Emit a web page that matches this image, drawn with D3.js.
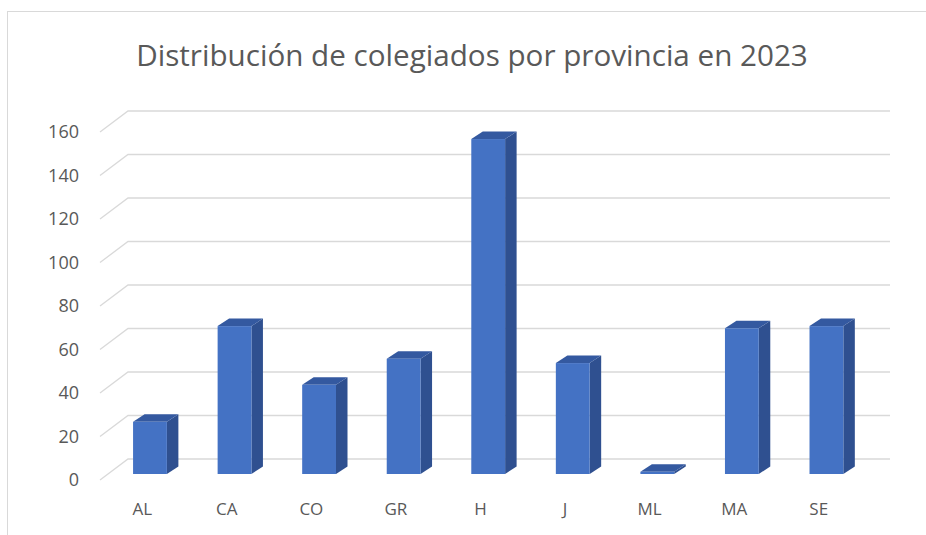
<!DOCTYPE html>
<html>
<head>
<meta charset="utf-8">
<script src="https://cdn.jsdelivr.net/npm/d3@7"></script>
<style>
  html, body { margin: 0; padding: 0; background: #fff; }
  svg { display: block; font-family: "Open Sans", "Noto Sans", sans-serif; }
</style>
</head>
<body>
<svg id="chart" width="926" height="535"></svg>
<script>
// datos
const provincias = ["AL", "CA", "CO", "GR", "H", "J", "ML", "MA", "SE"];
const colegiados = [24, 68, 41, 53, 154, 51, 1, 67, 68];
const yTicks = [0, 20, 40, 60, 80, 100, 120, 140, 160];
const titulo = "Distribución de colegiados por provincia en 2023";

const svg = d3.select("#chart");

// marco del grafico
svg.append("rect")
  .attr("x", 7.5).attr("y", 11.5)
  .attr("width", 940).attr("height", 540)
  .attr("fill", "#fff")
  .attr("stroke", "#d9d9d9");

// plano frontal (suelo) y desplazamiento hacia la pared del fondo
const front = { left: 100, right: 861, base: 480 };
const depth = { dx: 28, dy: -21 };
const wallRight = 890;

const x = d3.scaleBand()
  .domain(provincias)
  .range([front.left, front.right]);

const y = d3.scaleLinear()
  .domain([0, 160])
  .range([0, 348]);   // alto en px

// rejilla (diagonal en el suelo + linea en la pared)
const grid = svg.append("g").attr("fill", "none").attr("stroke", "#d9d9d9").attr("stroke-width", 1.3);
yTicks.forEach(t => {
  const yf = front.base - y(t);
  grid.append("path")
    .attr("d", `M${front.left},${yf} L${front.left + depth.dx},${yf + depth.dy} L${wallRight},${yf + depth.dy}`);
});

// etiquetas eje Y
svg.append("g").selectAll("text")
  .data(yTicks)
  .join("text")
    .attr("x", 79)
    .attr("y", d => front.base - y(d))
    .attr("dy", "0.35em")
    .attr("text-anchor", "end")
    .attr("font-size", 18)
    .attr("fill", "#595959")
    .text(d => d);

// etiquetas categorias
svg.append("g").selectAll("text")
  .data(provincias)
  .join("text")
    .attr("x", d => x(d) + x.bandwidth() / 2)
    .attr("y", 515)
    .attr("text-anchor", "middle")
    .attr("font-size", 17)
    .attr("fill", "#595959")
    .text(d => d);

// columnas 3D
const barW = x.bandwidth() / 2.5;        // ancho de intervalo 150%
const off = { dx: 7.7, dy: -6 };           // cara frontal de la columna
const side = { dx: 11.5, dy: -7.5 };       // profundidad de la columna

const bars = svg.append("g").selectAll("g")
  .data(provincias.map((p, i) => ({ p, v: colegiados[i] })))
  .join("g");

bars.each(function(d) {
  const g = d3.select(this);
  const x0 = x(d.p) + x.bandwidth() / 2 - barW / 2 + off.dx;
  const x1 = x0 + barW;
  const yb = front.base + off.dy;
  const yt = yb - y(d.v);

  // lateral
  g.append("path")
    .attr("d", `M${x1},${yb} L${x1 + side.dx},${yb + side.dy} L${x1 + side.dx},${yt + side.dy} L${x1},${yt} Z`)
    .attr("fill", "#2f5090");
  // superior
  g.append("path")
    .attr("d", `M${x0},${yt} L${x0 + side.dx},${yt + side.dy} L${x1 + side.dx},${yt + side.dy} L${x1},${yt} Z`)
    .attr("fill", "#3459a0");
  // frontal
  g.append("rect")
    .attr("x", x0)
    .attr("y", yt)
    .attr("width", barW)
    .attr("height", yb - yt)
    .attr("fill", "#4472c4");
});

// titulo (ajustado al ancho del original)
const title = svg.append("text")
  .attr("x", 472)
  .attr("y", 66)
  .attr("text-anchor", "middle")
  .attr("font-size", 26)
  .attr("fill", "#595959")
  .text(titulo);
const tw = title.node().getComputedTextLength();
title.attr("font-size", 26 * 672 / tw);
</script>
</body>
</html>
